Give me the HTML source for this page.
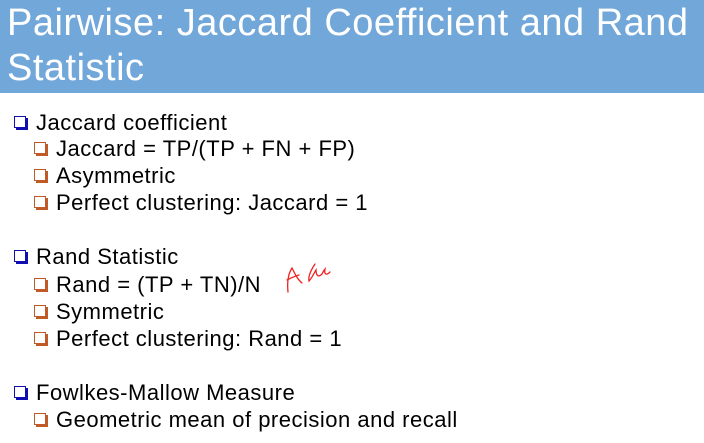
<!DOCTYPE html>
<html><head><meta charset="utf-8"><style>
body{margin:0;width:704px;height:443px;background:#fff;position:relative;overflow:hidden;font-family:"Liberation Sans",sans-serif}
.hd{position:absolute;left:0;top:0;width:704px;height:93px;background:#72a7da}
.t{position:absolute;left:7px;color:#fff;font-size:38px;white-space:nowrap;letter-spacing:0.5px;line-height:1}
.l{position:absolute;font-size:22px;letter-spacing:0.5px;color:#000;white-space:nowrap;line-height:1}
.b1,.b2{position:absolute;width:10px;height:10px;border:1px solid;box-sizing:content-box}
.b1{border-color:#1010b0;box-shadow:2px 2px 0 #1010b0}
.b2{border-color:#c05a28;box-shadow:2px 2px 0 #c05a28}
</style></head><body>
<div class="hd"></div>
<div class="t" style="top:4px">Pairwise: Jaccard Coefficient and Rand</div>
<div class="t" style="top:49px">Statistic</div>

<div class="b1" style="left:14px;top:116px"></div><div class="l" style="left:36px;top:112px">Jaccard coefficient</div>
<div class="b2" style="left:34px;top:142px"></div><div class="l" style="left:56px;top:138px">Jaccard = TP/(TP + FN + FP)</div>
<div class="b2" style="left:34px;top:169px"></div><div class="l" style="left:56px;top:165px">Asymmetric</div>
<div class="b2" style="left:34px;top:196px"></div><div class="l" style="left:56px;top:192px">Perfect clustering: Jaccard = 1</div>

<div class="b1" style="left:14px;top:250px"></div><div class="l" style="left:36px;top:246px">Rand Statistic</div>
<div class="b2" style="left:34px;top:278px"></div><div class="l" style="left:56px;top:274px">Rand = (TP + TN)/N</div>
<div class="b2" style="left:34px;top:305px"></div><div class="l" style="left:56px;top:301px">Symmetric</div>
<div class="b2" style="left:34px;top:332px"></div><div class="l" style="left:56px;top:328px">Perfect clustering: Rand = 1</div>

<div class="b1" style="left:14px;top:386px"></div><div class="l" style="left:36px;top:382px">Fowlkes-Mallow Measure</div>
<div class="b2" style="left:34px;top:413px"></div><div class="l" style="left:56px;top:409px">Geometric mean of precision and recall</div>

<svg style="position:absolute;left:270px;top:250px" width="80" height="50" viewBox="0 0 80 50">
<g fill="none" stroke="#f02020" stroke-width="1.3" stroke-linecap="round">
<path d="M18 42 C17 32 18 24 22 18 C25 24 28 30 32 33"/>
<path d="M17 30 C21 28 25 26 29 25"/>
<path d="M45 14 C41 20 38 26 39 31 C42 28 44 23 46 20 C46 25 48 28 52 24 C53 22 54 20 55 19 C54 24 56 26 60 22"/>
</g></svg>
</body></html>
